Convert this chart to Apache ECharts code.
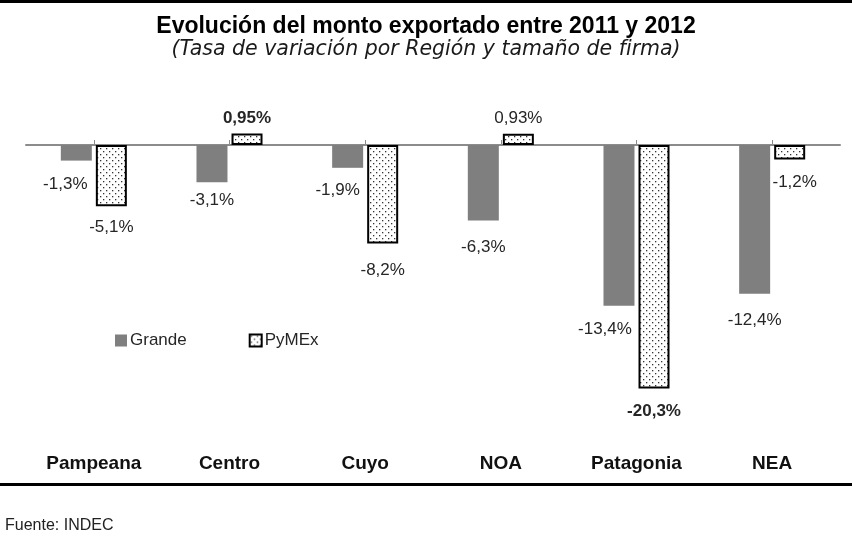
<!DOCTYPE html>
<html lang="es">
<head>
    <meta charset="UTF-8">
    <title>Evolución del monto exportado</title>
    <style>
        html, body { margin: 0; padding: 0; background: #fff; }
        #main { width: 852px; height: 537px; }
    </style>
</head>
<body>
<div id="main"></div>

<script type="text/javascript" src="https://cdn.jsdelivr.net/npm/echarts@6/dist/echarts.min.js"></script>
<script type="text/javascript">
    var regiones = ['Pampeana', 'Centro', 'Cuyo', 'NOA', 'Patagonia', 'NEA'];
    var grande = [-1.3, -3.1, -1.9, -6.3, -13.4, -12.4];
    var pymex = [-5.1, 0.95, -8.2, 0.93, -20.3, -1.2];
    var nombres = ['Grande', 'PyMEx'];

    var arial = '"Liberation Sans", Arial, sans-serif';

    // trama de puntos para PyMEx
    var tile = document.createElement('canvas');
    tile.width = 6;
    tile.height = 6;
    var ctx = tile.getContext('2d');
    ctx.fillStyle = '#fff';
    ctx.fillRect(0, 0, 6, 6);
    ctx.fillStyle = '#333';
    ctx.fillRect(1, 1, 1.3, 1.3);
    ctx.fillRect(4, 4, 1.3, 1.3);
    var trama = { image: tile, repeat: 'repeat' };

    function fmt(v) {
        return String(v).replace('.', ',') + '%';
    }

    // pequeños corrimientos de etiquetas (como en el original)
    var despGrande = [[-11, 5], [0, 0], [-10, 4], [0, 8], [-14, 5], [0, 8]];
    var despPymex = [[0, 3], [0, 3], [0, 8], [0, 3], [0, 4], [5, 4]];
    var negritaPymex = [false, true, false, false, true, false];

    var dataGrande = grande.map(function (v, i) {
        return {
            value: v,
            label: { offset: despGrande[i] }
        };
    });
    var dataPymex = pymex.map(function (v, i) {
        return {
            value: v,
            label: {
                position: v >= 0 ? 'top' : 'bottom',
                offset: despPymex[i],
                fontWeight: negritaPymex[i] ? 'bold' : 'normal'
            }
        };
    });

    var myChart = echarts.init(document.getElementById('main'));

    var option = {
        animation: false,
        backgroundColor: '#fff',
        title: {
            text: 'Evolución del monto exportado entre 2011 y 2012',
            subtext: '(Tasa de variación por Región y tamaño de firma)',
            left: 'center',
            top: 10,
            itemGap: 2,
            textStyle: {
                fontFamily: arial,
                fontWeight: 'bold',
                fontSize: 23,
                color: '#000'
            },
            subtextStyle: {
                fontFamily: '"DejaVu Sans", sans-serif',
                fontStyle: 'italic',
                fontSize: 20.5,
                color: '#1a1a1a'
            }
        },
        legend: {
            data: [
                { name: nombres[0], icon: 'rect', itemStyle: { color: '#7f7f7f' } },
                { name: nombres[1], icon: 'rect' }
            ],
            left: 110,
            top: 327,
            itemWidth: 12,
            itemHeight: 12,
            itemGap: 62,
            textStyle: {
                fontFamily: arial,
                fontSize: 17,
                color: '#262626',
                padding: [0, 0, 0, -2]
            }
        },
        grid: {
            left: 26,
            right: 12,
            top: 121,
            height: 324
        },
        xAxis: [{
            type: 'category',
            data: regiones,
            axisLine: { onZero: true, lineStyle: { color: '#8c8c8c', width: 2 } },
            axisTick: { show: true, alignWithLabel: true, inside: true, length: 5, lineStyle: { color: '#8c8c8c' } },
            axisLabel: { show: false }
        }, {
            type: 'category',
            data: regiones,
            position: 'bottom',
            axisLine: { show: false },
            axisTick: { show: false },
            axisLabel: {
                margin: 9,
                fontFamily: arial,
                fontWeight: 'bold',
                fontSize: 19,
                color: '#111'
            }
        }],
        yAxis: {
            type: 'value',
            min: -25,
            max: 2,
            show: false,
            splitLine: { show: false }
        },
        series: [{
            name: nombres[0],
            type: 'bar',
            xAxisIndex: 0,
            data: dataGrande,
            barWidth: 31,
            barGap: '13%',
            itemStyle: { color: '#7f7f7f' },
            label: {
                show: true,
                position: 'bottom',
                distance: 10,
                formatter: function (p) { return fmt(p.value); },
                fontFamily: arial,
                fontSize: 17,
                color: '#262626'
            }
        }, {
            name: nombres[1],
            type: 'bar',
            xAxisIndex: 0,
            data: dataPymex,
            barWidth: 31,
            barGap: '13%',
            itemStyle: { color: trama, borderColor: '#000', borderWidth: 2 },
            label: {
                show: true,
                distance: 10,
                formatter: function (p) { return fmt(p.value); },
                fontFamily: arial,
                fontSize: 17,
                color: '#262626'
            }
        }],
        graphic: [{
            type: 'rect',
            shape: { x: 0, y: 0, width: 852, height: 3 },
            style: { fill: '#000' }
        }, {
            type: 'rect',
            shape: { x: 0, y: 483, width: 852, height: 3 },
            style: { fill: '#000' }
        }, {
            type: 'text',
            left: 5,
            top: 518,
            style: {
                text: 'Fuente: INDEC',
                font: '16px ' + arial,
                fill: '#222'
            }
        }]
    };

    if (option && typeof option === 'object') {
        myChart.setOption(option);
    }
</script>
</body>
</html>
